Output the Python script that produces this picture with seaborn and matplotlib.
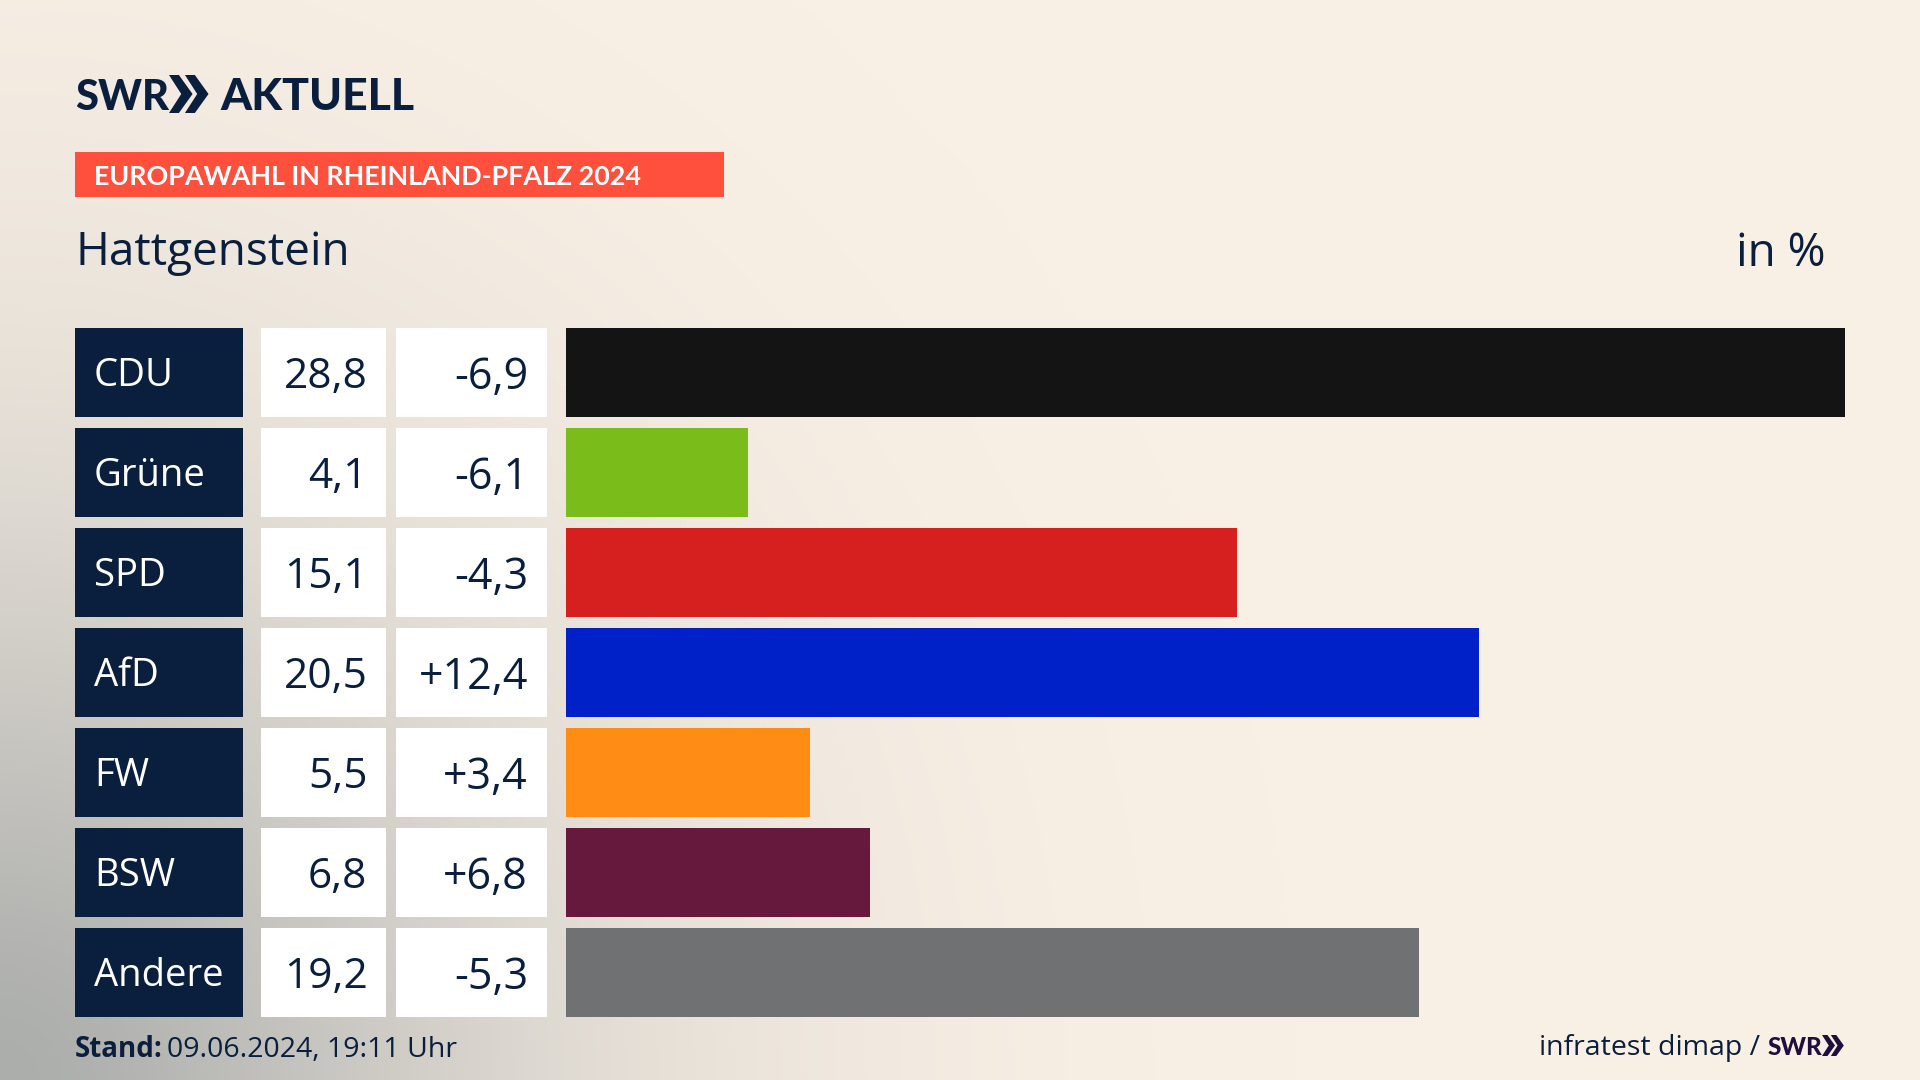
import numpy as np
import pandas as pd
import matplotlib
matplotlib.use("Agg")
import matplotlib.pyplot as plt
import seaborn as sns
from matplotlib.patches import Rectangle, Polygon
from matplotlib.transforms import blended_transform_factory

parteien = ["CDU", "Grüne", "SPD", "AfD", "FW", "BSW", "Andere"]
# bar lengths, the printed labels are rounded
ergebnis = [28.8, 4.1, 15.1, 20.55, 5.5, 6.85, 19.2]
ergebnis_text = ["28,8", "4,1", "15,1", "20,5", "5,5", "6,8", "19,2"]
diff_text = ["-6,9", "-6,1", "-4,3", "+12,4", "+3,4", "+6,8", "-5,3"]
farben = ["#141414", "#7abd1a", "#d61f1f", "#0020c8", "#ff8c14", "#66193c", "#707173"]

NAVY = "#0a1f3d"
W, H = 1920, 1080

sns.set_theme(style="white")
plt.rcParams["font.family"] = ["Open Sans", "DejaVu Sans"]

fig = plt.figure(figsize=(W / 100, H / 100), dpi=100)

# background in pixel coordinates
bg = fig.add_axes([0, 0, 1, 1])
bg.set_xlim(0, W)
bg.set_ylim(H, 0)
bg.axis("off")

yy, xx = np.mgrid[0:H, 0:W]
d = np.sqrt((xx / 900.0) ** 2 + ((H - yy) / 950.0) ** 2)
t = np.exp(-(d / 0.6) ** 1.6)
base = np.array([250, 241, 230]) / 255
dark = np.array([172, 174, 172]) / 255
img = base + (dark - base) * t[..., None]
bg.imshow(img, extent=[0, W, H, 0], aspect="auto", zorder=0)

# bars
df = pd.DataFrame({"Partei": parteien, "Ergebnis": ergebnis})
ax = fig.add_axes([566 / W, 1 - 1022 / H, (1845 - 566) / W, 700 / H])
ax.patch.set_alpha(0)
sns.barplot(data=df, x="Ergebnis", y="Partei", hue="Partei", palette=farben,
            legend=False, width=0.89, saturation=1, linewidth=0, ax=ax)
ax.set_xlim(0, 28.8)
ax.set_xlabel("")
ax.set_ylabel("")
ax.set_xticks([])
ax.set_yticks([])
sns.despine(ax=ax, left=True, bottom=True)

# table cells next to the bars, x in pixels, y from the bar axis
row = blended_transform_factory(bg.transData, ax.transData)
for i in range(len(parteien)):
    bg.add_patch(Rectangle((75, i - 0.445), 167.5, 0.89, color=NAVY, lw=0, transform=row))
    bg.add_patch(Rectangle((261, i - 0.445), 125, 0.89, color="white", lw=0, transform=row))
    bg.add_patch(Rectangle((396, i - 0.445), 151, 0.89, color="white", lw=0, transform=row))
    bg.text(94, i, parteien[i], color="white", fontsize=27.5, va="center_baseline", transform=row)
    bg.text(367.5, i, ergebnis_text[i], color=NAVY, fontsize=30.5, ha="right", va="center_baseline", transform=row)
    bg.text(528, i, diff_text[i], color=NAVY, fontsize=31, ha="right", va="center_baseline", transform=row)


def chevrons(x, y, h, color):
    # the two arrows of the SWR logo
    w = h * 0.62
    for dx in (0, h * 0.42):
        x0 = x + dx
        pts = [(x0, y), (x0 + w * 0.42, y), (x0 + w, y + h / 2),
               (x0 + w * 0.42, y + h), (x0, y + h), (x0 + w * 0.52, y + h / 2)]
        bg.add_patch(Polygon(pts, closed=True, color=color, lw=0))


# header
bg.text(75, 110, "SWR", color=NAVY, fontsize=30, fontweight="black", family="Lato")
chevrons(169, 75, 38, NAVY)
bg.text(220, 110, "AKTUELL", color=NAVY, fontsize=32, fontweight="black", family="Lato")
bg.add_patch(Rectangle((75, 152), 649, 45, color="#ff4f3d", lw=0))
bg.text(94, 175, "EUROPAWAHL IN RHEINLAND-PFALZ 2024", color="white", fontsize=19.4,
        fontweight="bold", family="Lato", va="center_baseline")
bg.text(75, 248, "Hattgenstein", color=NAVY, fontsize=33, va="center_baseline")
bg.text(1826, 248, "in %", color=NAVY, fontsize=33, ha="right", va="center_baseline")

# footer
bg.text(75, 1057, "Stand:", color=NAVY, fontsize=20, fontweight="bold")
bg.text(167, 1057, "09.06.2024, 19:11 Uhr", color=NAVY, fontsize=20.5)
bg.text(1539, 1055, "infratest dimap /", color=NAVY, fontsize=20.5)
bg.text(1768, 1055, "SWR", color="#1e0f3c", fontsize=17.5, fontweight="black", family="Lato")
chevrons(1822, 1035, 21, "#1e0f3c")

fig.savefig("out.png", dpi=100)
